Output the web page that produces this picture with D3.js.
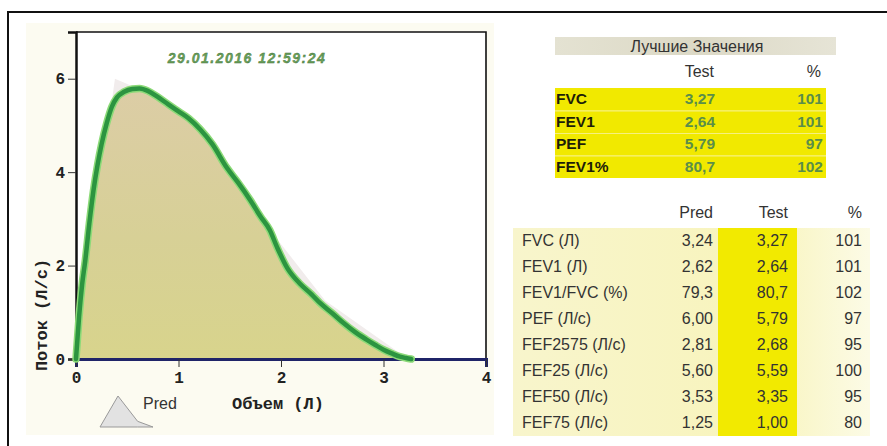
<!DOCTYPE html>
<html>
<head>
<meta charset="utf-8">
<script src="https://cdn.jsdelivr.net/npm/d3@7"></script>
<style>
  html, body { margin: 0; padding: 0; background: #fff; }
  svg { display: block; }
</style>
</head>
<body>
<svg id="chart" width="887" height="446"></svg>
<script>
// Flow-volume loop (expiration) with predicted shape
const testVolume = [0, 0.01, 0.03, 0.06, 0.09, 0.13, 0.17, 0.21, 0.25, 0.30, 0.35, 0.40, 0.47, 0.55, 0.62, 0.70, 0.79, 0.90, 1.00, 1.10, 1.21, 1.33, 1.47, 1.58, 1.70, 1.80, 1.89, 1.96, 2.06, 2.19, 2.30, 2.38, 2.50, 2.61, 2.72, 2.83, 2.92, 3.00, 3.08, 3.16, 3.22, 3.27];
const testFlow   = [0, 0.3, 0.9, 1.6, 2.1, 2.9, 3.6, 4.15, 4.6, 5.05, 5.4, 5.6, 5.72, 5.78, 5.79, 5.74, 5.62, 5.45, 5.3, 5.15, 4.92, 4.6, 4.1, 3.78, 3.4, 3.05, 2.76, 2.4, 1.95, 1.6, 1.38, 1.2, 0.98, 0.77, 0.58, 0.42, 0.3, 0.2, 0.12, 0.05, 0.02, 0];

const predVolume = [0, 0.38, 0.81, 1.62, 2.43, 3.24];
const predFlow   = [0, 6.00, 5.60, 3.53, 1.25, 0];

const xTicks = [0, 1, 2, 3, 4];
const yTicks = [0, 2, 4, 6];
const timestamp = "29.01.2016 12:59:24";

// Best values table
const bestTitle = "Лучшие Значения";
const bestLabels = ["FVC", "FEV1", "PEF", "FEV1%"];
const bestTest = [3.27, 2.64, 5.79, 80.7];
const bestPct = [101, 101, 97, 102];

// Parameters table
const paramLabels = ["FVC (Л)", "FEV1 (Л)", "FEV1/FVC (%)", "PEF (Л/с)", "FEF2575 (Л/с)", "FEF25 (Л/с)", "FEF50 (Л/с)", "FEF75 (Л/с)"];
const predValues = [3.24, 2.62, 79.3, 6.00, 2.81, 5.60, 3.53, 1.25];
const testValues = [3.27, 2.64, 80.7, 5.79, 2.68, 5.59, 3.35, 1.00];
const pctValues = [101, 101, 102, 97, 95, 100, 95, 80];

const fmt = v => (v >= 10 ? v.toFixed(1) : v.toFixed(2)).replace(".", ",");

const svg = d3.select("#chart");
const defs = svg.append("defs");

const fillGrad = defs.append("linearGradient").attr("id", "testFill")
  .attr("x1", 0).attr("y1", 0).attr("x2", 0).attr("y2", 1);
fillGrad.append("stop").attr("offset", "0%").attr("stop-color", "#dccda6");
fillGrad.append("stop").attr("offset", "55%").attr("stop-color", "#d7d096");
fillGrad.append("stop").attr("offset", "100%").attr("stop-color", "#d8d48c");

const headGrad = defs.append("linearGradient").attr("id", "headFill")
  .attr("x1", 0).attr("y1", 0).attr("x2", 1).attr("y2", 0);
headGrad.append("stop").attr("offset", "0%").attr("stop-color", "#e4e2d2");
headGrad.append("stop").attr("offset", "50%").attr("stop-color", "#dcd9c6");
headGrad.append("stop").attr("offset", "100%").attr("stop-color", "#e6e4d6");

const paleGrad = defs.append("linearGradient").attr("id", "paleFill")
  .attr("x1", 0).attr("y1", 0).attr("x2", 1).attr("y2", 0);
paleGrad.append("stop").attr("offset", "0%").attr("stop-color", "#f8f5cc");
paleGrad.append("stop").attr("offset", "70%").attr("stop-color", "#f8f4bc");
paleGrad.append("stop").attr("offset", "100%").attr("stop-color", "#fcfbe6");

// Outer frame
svg.append("path").attr("d", "M8,446 L8,12 L887,12")
  .attr("fill", "none").attr("stroke", "#111").attr("stroke-width", 2);

// Faint panel background around the plot
svg.append("rect").attr("x", 26).attr("y", 23).attr("width", 468).attr("height", 412)
  .attr("fill", "#fcfbf1");

// Plot scales
const x = d3.scaleLinear().domain([0, 4]).range([76, 486]);
const y = d3.scaleLinear().domain([0, 7]).range([359, 32]);

svg.append("rect").attr("x", x(0)).attr("y", y(7))
  .attr("width", x(4) - x(0)).attr("height", y(0) - y(7)).attr("fill", "#fff");

const predPts = predVolume.map((v, i) => [v, predFlow[i]]);
const testPts = testVolume.map((v, i) => [v, testFlow[i]]);

const predArea = d3.area().x(d => x(d[0])).y0(y(0)).y1(d => y(d[1]));
const testArea = d3.area().x(d => x(d[0])).y0(y(0)).y1(d => y(d[1])).curve(d3.curveMonotoneX);
const testLine = d3.line().x(d => x(d[0])).y(d => y(d[1])).curve(d3.curveMonotoneX);

// Predicted area (pale)
svg.append("path").datum(predPts).attr("d", predArea)
  .attr("fill", "#f1ecec");

// Test area
svg.append("path").datum(testPts).attr("d", testArea)
  .attr("fill", "url(#testFill)");

// Plot frame: top and right edges
svg.append("path")
  .attr("d", `M${x(0)},${y(7)} L${x(4)},${y(7)} L${x(4)},${y(0)}`)
  .attr("fill", "none").attr("stroke", "#111").attr("stroke-width", 1.6);

// X axis
const xAxis = svg.append("g").attr("transform", `translate(0,${y(0)})`)
  .call(d3.axisBottom(x).tickValues(xTicks).tickSize(8).tickPadding(5).tickFormat(d3.format("d")));
xAxis.select(".domain").attr("stroke", "#1f2468").attr("stroke-width", 3);
xAxis.selectAll(".tick line").attr("stroke", "#333").attr("stroke-width", 1);
xAxis.selectAll("text").attr("font-family", "'Liberation Mono', monospace")
  .attr("font-weight", "bold").attr("font-size", 16).attr("fill", "#222");

// Y axis
const yAxis = svg.append("g").attr("transform", `translate(${x(0)},0)`)
  .call(d3.axisLeft(y).tickValues(yTicks).tickSize(8).tickPadding(3).tickFormat(d3.format("d")));
yAxis.select(".domain").attr("stroke", "#111").attr("stroke-width", 2.5);
yAxis.selectAll(".tick line").attr("stroke", "#333").attr("stroke-width", 1);
yAxis.selectAll("text").attr("font-family", "'Liberation Mono', monospace")
  .attr("font-weight", "bold").attr("font-size", 16).attr("fill", "#222");

// Test curve line with light halo
svg.append("path").datum(testPts).attr("d", testLine)
  .attr("fill", "none").attr("stroke", "#8cda78").attr("stroke-width", 7.5)
  .attr("stroke-linejoin", "round").attr("stroke-linecap", "round");
svg.append("path").datum(testPts).attr("d", testLine)
  .attr("fill", "none").attr("stroke", "#2c9440").attr("stroke-width", 4.5)
  .attr("stroke-linejoin", "round").attr("stroke-linecap", "round");

// Timestamp
svg.append("text").attr("x", 247).attr("y", 63).attr("text-anchor", "middle")
  .attr("font-family", "'Liberation Sans', Arial, sans-serif")
  .attr("font-weight", "bold").attr("font-style", "italic").attr("font-size", 14)
  .attr("letter-spacing", 1.5)
  .attr("fill", "#6aa25a").attr("stroke", "#3e6e38").attr("stroke-width", 0.35)
  .text(timestamp);

// Axis titles
svg.append("text").attr("x", 278).attr("y", 409).attr("text-anchor", "middle")
  .attr("font-family", "'Liberation Mono', monospace").attr("font-weight", "bold")
  .attr("font-size", 17).attr("fill", "#222").text("Объем (Л)");
svg.append("text").attr("transform", "translate(47,315) rotate(-90)").attr("text-anchor", "middle")
  .attr("font-family", "'Liberation Mono', monospace").attr("font-weight", "bold")
  .attr("font-size", 17).attr("fill", "#222").text("Поток (Л/с)");

// Legend: predicted shape icon
const legIconX = d3.scaleLinear().domain([0, 3.24]).range([100, 153]);
const legIconY = d3.scaleLinear().domain([0, 6]).range([427, 396]);
const legArea = d3.area().x(d => legIconX(d[0])).y0(legIconY(0)).y1(d => legIconY(d[1]));
svg.append("path").datum([[0, 0], [1.1, 6], [2.3, 1.1], [3.24, 0]]).attr("d", legArea)
  .attr("fill", "#e2e2e2").attr("stroke", "#999").attr("stroke-width", 1);
svg.append("text").attr("x", 143).attr("y", 409)
  .attr("font-family", "'Liberation Sans', Arial, sans-serif").attr("font-size", 16)
  .attr("fill", "#333").text("Pred");

// ---- Best values table ----
const sans = "'Liberation Sans', Arial, sans-serif";
const bestRowY = d3.scaleBand().domain(d3.range(bestLabels.length)).range([88, 178]);

svg.append("rect").attr("x", 555).attr("y", 37).attr("width", 281).attr("height", 18)
  .attr("fill", "url(#headFill)");
svg.append("text").attr("x", 697).attr("y", 52).attr("text-anchor", "middle")
  .attr("font-family", sans).attr("font-size", 16).attr("fill", "#333").text(bestTitle);
svg.append("text").attr("x", 714).attr("y", 77).attr("text-anchor", "end")
  .attr("font-family", sans).attr("font-size", 16).attr("fill", "#333").text("Test");
svg.append("text").attr("x", 821).attr("y", 77).attr("text-anchor", "end")
  .attr("font-family", sans).attr("font-size", 16).attr("fill", "#333").text("%");

const bestRows = svg.append("g").selectAll("g").data(bestLabels).join("g")
  .attr("transform", (d, i) => `translate(0,${bestRowY(i)})`);
bestRows.append("rect").attr("x", 555).attr("width", 271).attr("height", bestRowY.bandwidth())
  .attr("fill", "#f1e900");
bestRows.append("line").attr("x1", 555).attr("x2", 826).attr("y1", 0.5).attr("y2", 0.5)
  .attr("stroke", "#f6f080").attr("stroke-width", (d, i) => i ? 1 : 0);
bestRows.append("text").attr("x", 556).attr("y", 16)
  .attr("font-family", sans).attr("font-weight", "bold").attr("font-size", 15.5)
  .attr("fill", "#1e1e08").text(d => d);
bestRows.append("text").attr("x", 715).attr("y", 16).attr("text-anchor", "end")
  .attr("font-family", sans).attr("font-weight", "bold").attr("font-size", 15.5).attr("fill", "#5a8e4a")
  .text((d, i) => fmt(bestTest[i]));
bestRows.append("text").attr("x", 823).attr("y", 16).attr("text-anchor", "end")
  .attr("font-family", sans).attr("font-weight", "bold").attr("font-size", 15.5).attr("fill", "#5a8e4a")
  .text((d, i) => bestPct[i]);

// ---- Parameters table ----
const rowY = d3.scaleBand().domain(d3.range(paramLabels.length)).range([228, 436]);

svg.append("rect").attr("x", 513).attr("y", 228).attr("width", 357).attr("height", 208)
  .attr("fill", "url(#paleFill)");
svg.append("rect").attr("x", 718).attr("y", 228).attr("width", 79).attr("height", 208)
  .attr("fill", "#f2ea00");

const hdrY = 218;
[["Pred", 713], ["Test", 788], ["%", 862]].forEach(([t, px]) => {
  svg.append("text").attr("x", px).attr("y", hdrY).attr("text-anchor", "end")
    .attr("font-family", sans).attr("font-size", 16).attr("fill", "#333").text(t);
});

const rows = svg.append("g").selectAll("g").data(paramLabels).join("g")
  .attr("transform", (d, i) => `translate(0,${rowY(i)})`);
rows.append("text").attr("x", 522).attr("y", 18)
  .attr("font-family", sans).attr("font-size", 16).attr("fill", "#333").text(d => d);
rows.append("text").attr("x", 713).attr("y", 18).attr("text-anchor", "end")
  .attr("font-family", sans).attr("font-size", 16).attr("fill", "#333").text((d, i) => fmt(predValues[i]));
rows.append("text").attr("x", 788).attr("y", 18).attr("text-anchor", "end")
  .attr("font-family", sans).attr("font-size", 16).attr("fill", "#333").text((d, i) => fmt(testValues[i]));
rows.append("text").attr("x", 862).attr("y", 18).attr("text-anchor", "end")
  .attr("font-family", sans).attr("font-size", 16).attr("fill", "#333").text((d, i) => pctValues[i]);
</script>
</body>
</html>
